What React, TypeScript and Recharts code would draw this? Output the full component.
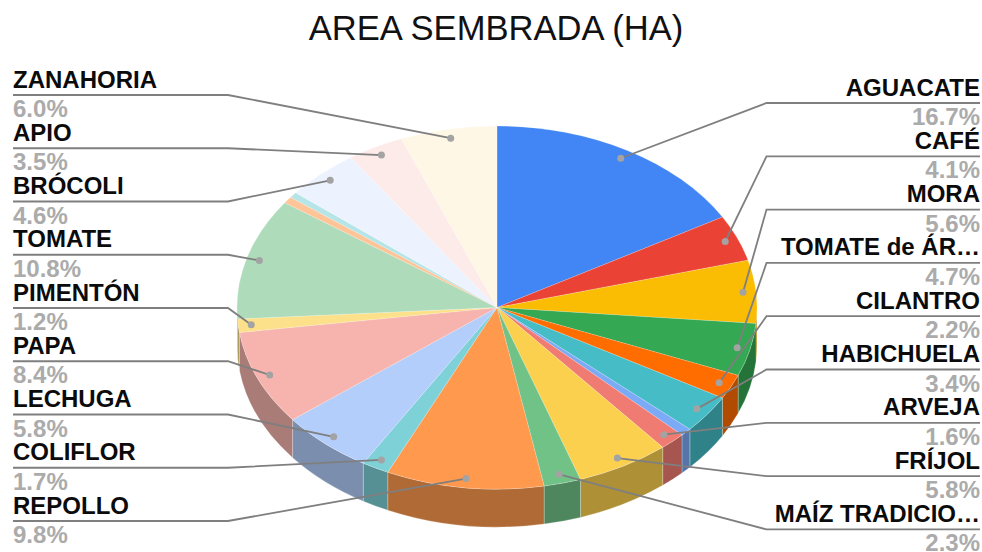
import React from 'react';
import { PieChart, Pie, Cell } from 'recharts';

// slices in clockwise order from 12 o'clock; empty name = no label in the original
const names = [
  'AGUACATE', 'CAFÉ', 'MORA', 'TOMATE de ÁR…', 'CILANTRO', 'HABICHUELA', '', 'ARVEJA', 'FRÍJOL',
  'MAÍZ TRADICIO…', 'REPOLLO', 'COLIFLOR', 'LECHUGA', 'PAPA', 'PIMENTÓN', 'TOMATE', '', '',
  'BRÓCOLI', 'APIO', 'ZANAHORIA',
];
const values = [
  16.7, 4.1, 5.6, 4.7, 2.2, 3.4, 0.7, 1.6, 5.8,
  2.3, 9.8, 1.7, 5.8, 8.4, 1.2, 10.8, 0.6, 0.5,
  4.6, 3.5, 6.0,
];
const colors = [
  '#4285f4', '#ea4335', '#fbbc04', '#34a853', '#ff6d01', '#46bdc6', '#7baaf7', '#f07b72', '#fcd04f',
  '#71c287', '#ff994d', '#7ed1d7', '#b3cefb', '#f7b4ae', '#fde08a', '#aedcba', '#ffc599', '#b5e5e7',
  '#ecf3fe', '#fdebe9', '#fff7e6',
];

const WIDTH = 982;
const HEIGHT = 552;
const CX = 497;
const CY = 307.5;
const RX = 260;
const RY = 181.5;
const DEPTH = 38;
const RAD = Math.PI / 180;

const chartData = names.map((name, i) => ({ name, value: values[i] }));
const labelled = names.filter((n) => n !== '');

const px = (a: number, k = 1) => CX + RX * k * Math.cos(a * RAD);
const py = (a: number, k = 1) => CY - RY * k * Math.sin(a * RAD);

function shade(hex: string) {
  const n = parseInt(hex.slice(1), 16);
  const ch = (v: number) => Math.round(v * 0.69);
  return `rgb(${ch(n >> 16)},${ch((n >> 8) & 255)},${ch(n & 255)})`;
}

// Recharts gives the angles, the sector is squashed into an ellipse and gets a wall
function TiltedSlice(props: any) {
  const { startAngle, endAngle, fill } = props;
  const large = Math.abs(startAngle - endAngle) > 180 ? 1 : 0;
  const top = `M${CX},${CY}L${px(startAngle)},${py(startAngle)}A${RX},${RY} 0 ${large} 1 ${px(endAngle)},${py(endAngle)}Z`;
  const from = Math.min(startAngle, 0);
  const to = Math.max(endAngle, -180);
  return (
    <g>
      {from > to && (
        <path
          d={`M${px(from)},${py(from)}A${RX},${RY} 0 0 1 ${px(to)},${py(to)}L${px(to)},${py(to) + DEPTH}A${RX},${RY} 0 0 0 ${px(from)},${py(from) + DEPTH}Z`}
          fill={shade(fill)}
          stroke="#ffffff"
          strokeOpacity={0.3}
          strokeWidth={0.8}
        />
      )}
      <path d={top} fill={fill} stroke="#ffffff" strokeOpacity={0.3} strokeWidth={0.6} />
    </g>
  );
}

function SliceLabel(props: any) {
  const { index, midAngle } = props;
  const name = names[index];
  if (!name) return null;
  const row = labelled.indexOf(name);
  const isRight = row < 9;
  const lineY = isRight ? 103 + row * 53.3 : 95 + (labelled.length - 1 - row) * 53.25;
  const elbowX = isRight ? 766.5 : 228;
  const edgeX = isRight ? 980 : 13;
  const dotX = px(midAngle, 0.95);
  const dotY = py(midAngle, 0.95);
  const anchor = isRight ? 'end' : 'start';
  return (
    <g fontFamily="'Liberation Sans', Arial, sans-serif" fontWeight="bold" fontSize={24} textAnchor={anchor}>
      <polyline
        points={`${edgeX},${lineY} ${elbowX},${lineY} ${dotX},${dotY}`}
        fill="none"
        stroke="#7f7f7f"
        strokeWidth={1.8}
      />
      <circle cx={dotX} cy={dotY} r={3.5} fill="#a3a3a3" />
      <text x={edgeX} y={lineY - 7.5} fill="#0b0b0b">{name}</text>
      <text x={edgeX} y={lineY + 22} fill="#ababab">{values[index].toFixed(1)}%</text>
    </g>
  );
}

export default function App() {
  return (
    <div style={{ position: 'absolute', left: 0, top: 0, width: WIDTH, height: HEIGHT, background: '#ffffff' }}>
      <PieChart width={WIDTH} height={HEIGHT} margin={{ top: 0, right: 0, bottom: 0, left: 0 }}>
        <text
          x={496}
          y={40}
          textAnchor="middle"
          fontFamily="'Liberation Sans', Arial, sans-serif"
          fontSize={34.6}
          fill="#111111"
        >
          AREA SEMBRADA (HA)
        </text>
        <Pie
          data={chartData}
          dataKey="value"
          nameKey="name"
          cx={CX}
          cy={CY}
          innerRadius={0}
          outerRadius={RX}
          startAngle={90}
          endAngle={-270}
          paddingAngle={0}
          minAngle={0}
          stroke="none"
          shape={TiltedSlice}
          label={SliceLabel}
          labelLine={false}
          isAnimationActive={false}
        >
          {chartData.map((d, i) => (
            <Cell key={d.name + i} fill={colors[i]} />
          ))}
        </Pie>
      </PieChart>
    </div>
  );
}
